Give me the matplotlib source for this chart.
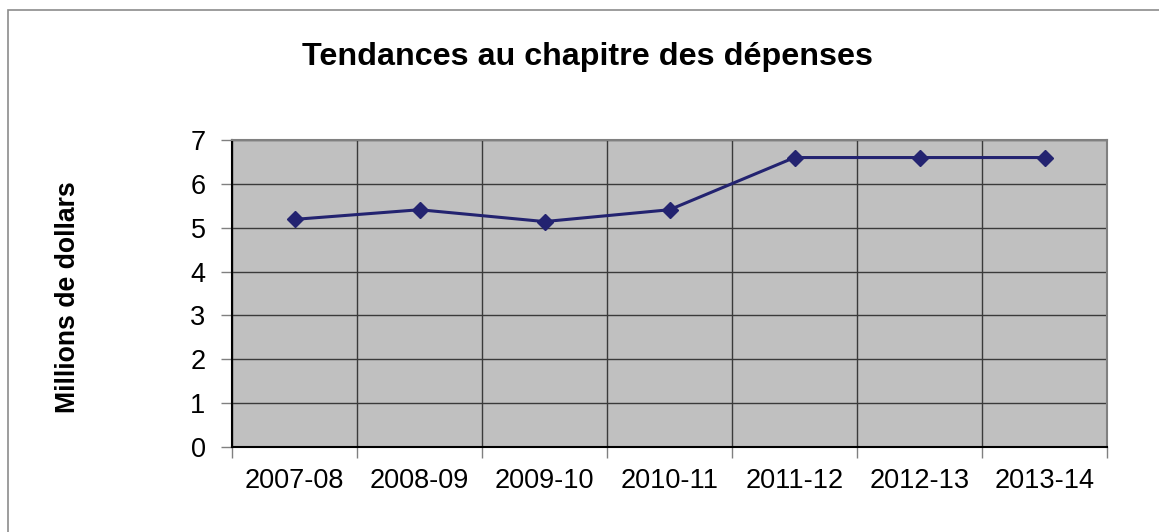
import matplotlib
matplotlib.use("Agg")
import matplotlib.pyplot as plt
from matplotlib.patches import Rectangle
import numpy as np

categories = ["2007-08", "2008-09", "2009-10", "2010-11", "2011-12", "2012-13", "2013-14"]
values = [5.19, 5.41, 5.14, 5.41, 6.6, 6.6, 6.6]
y_ticks = [0, 1, 2, 3, 4, 5, 6, 7]
title = "Tendances au chapitre des dépenses"
ylabel = "Millions de dollars"

plt.rcParams['font.family'] = ['Liberation Sans', 'DejaVu Sans']

W, H = 1159, 532
fig = plt.figure(figsize=(W / 100, H / 100), dpi=100)

# outer chart border (only top/left visible in the reference)
fig.patches.append(Rectangle((8 / W, -0.05), 1.2, 1 - 10 / H + 0.05,
                             transform=fig.transFigure, fill=False,
                             edgecolor="#8c8c8c", linewidth=1.2, zorder=0))

left, right, top, bottom = 232 / W, 1107 / W, 1 - 140 / H, 1 - 447 / H
ax = fig.add_axes([left, bottom, right - left, top - bottom])
ax.set_facecolor("#c0c0c0")

x = np.arange(len(categories))
ax.plot(x, values, color="#232370", linewidth=2.2, marker="D",
        markersize=7.8, markerfacecolor="#232370", markeredgecolor="#232370",
        zorder=3)

ax.set_xlim(-0.5, len(categories) - 0.5)
ax.set_ylim(0, 7)
ax.set_yticks(y_ticks)
ax.set_yticklabels([str(v) for v in y_ticks], fontsize=19.5)
ax.set_xticks(x)
ax.set_xticklabels(categories, fontsize=19.5)
ax.set_xticks(np.arange(-0.5, len(categories)), minor=True)

ax.tick_params(axis="x", which="major", length=0, pad=15)
ax.tick_params(axis="x", which="minor", length=8, color="#808080", width=1)
ax.tick_params(axis="y", which="major", length=8, color="#808080", width=1, pad=11)

ax.grid(True, axis="y", which="major", color="#3a3a3a", linewidth=1.0)
ax.grid(True, axis="x", which="minor", color="#3a3a3a", linewidth=1.0)
ax.set_axisbelow(True)

for s in ["top", "right"]:
    ax.spines[s].set_color("#808080")
    ax.spines[s].set_linewidth(1.5)
for s in ["left", "bottom"]:
    ax.spines[s].set_color("#000000")
    ax.spines[s].set_linewidth(1.5)

fig.text(588 / W, 1 - 57.5 / H, title, ha="center", va="center",
         fontsize=23.2, fontweight="bold")
fig.text(68 / W, 1 - 297 / H, ylabel, ha="center", va="center",
         rotation=90, fontsize=19.2, fontweight="bold")

fig.savefig("out.png", dpi=100)
